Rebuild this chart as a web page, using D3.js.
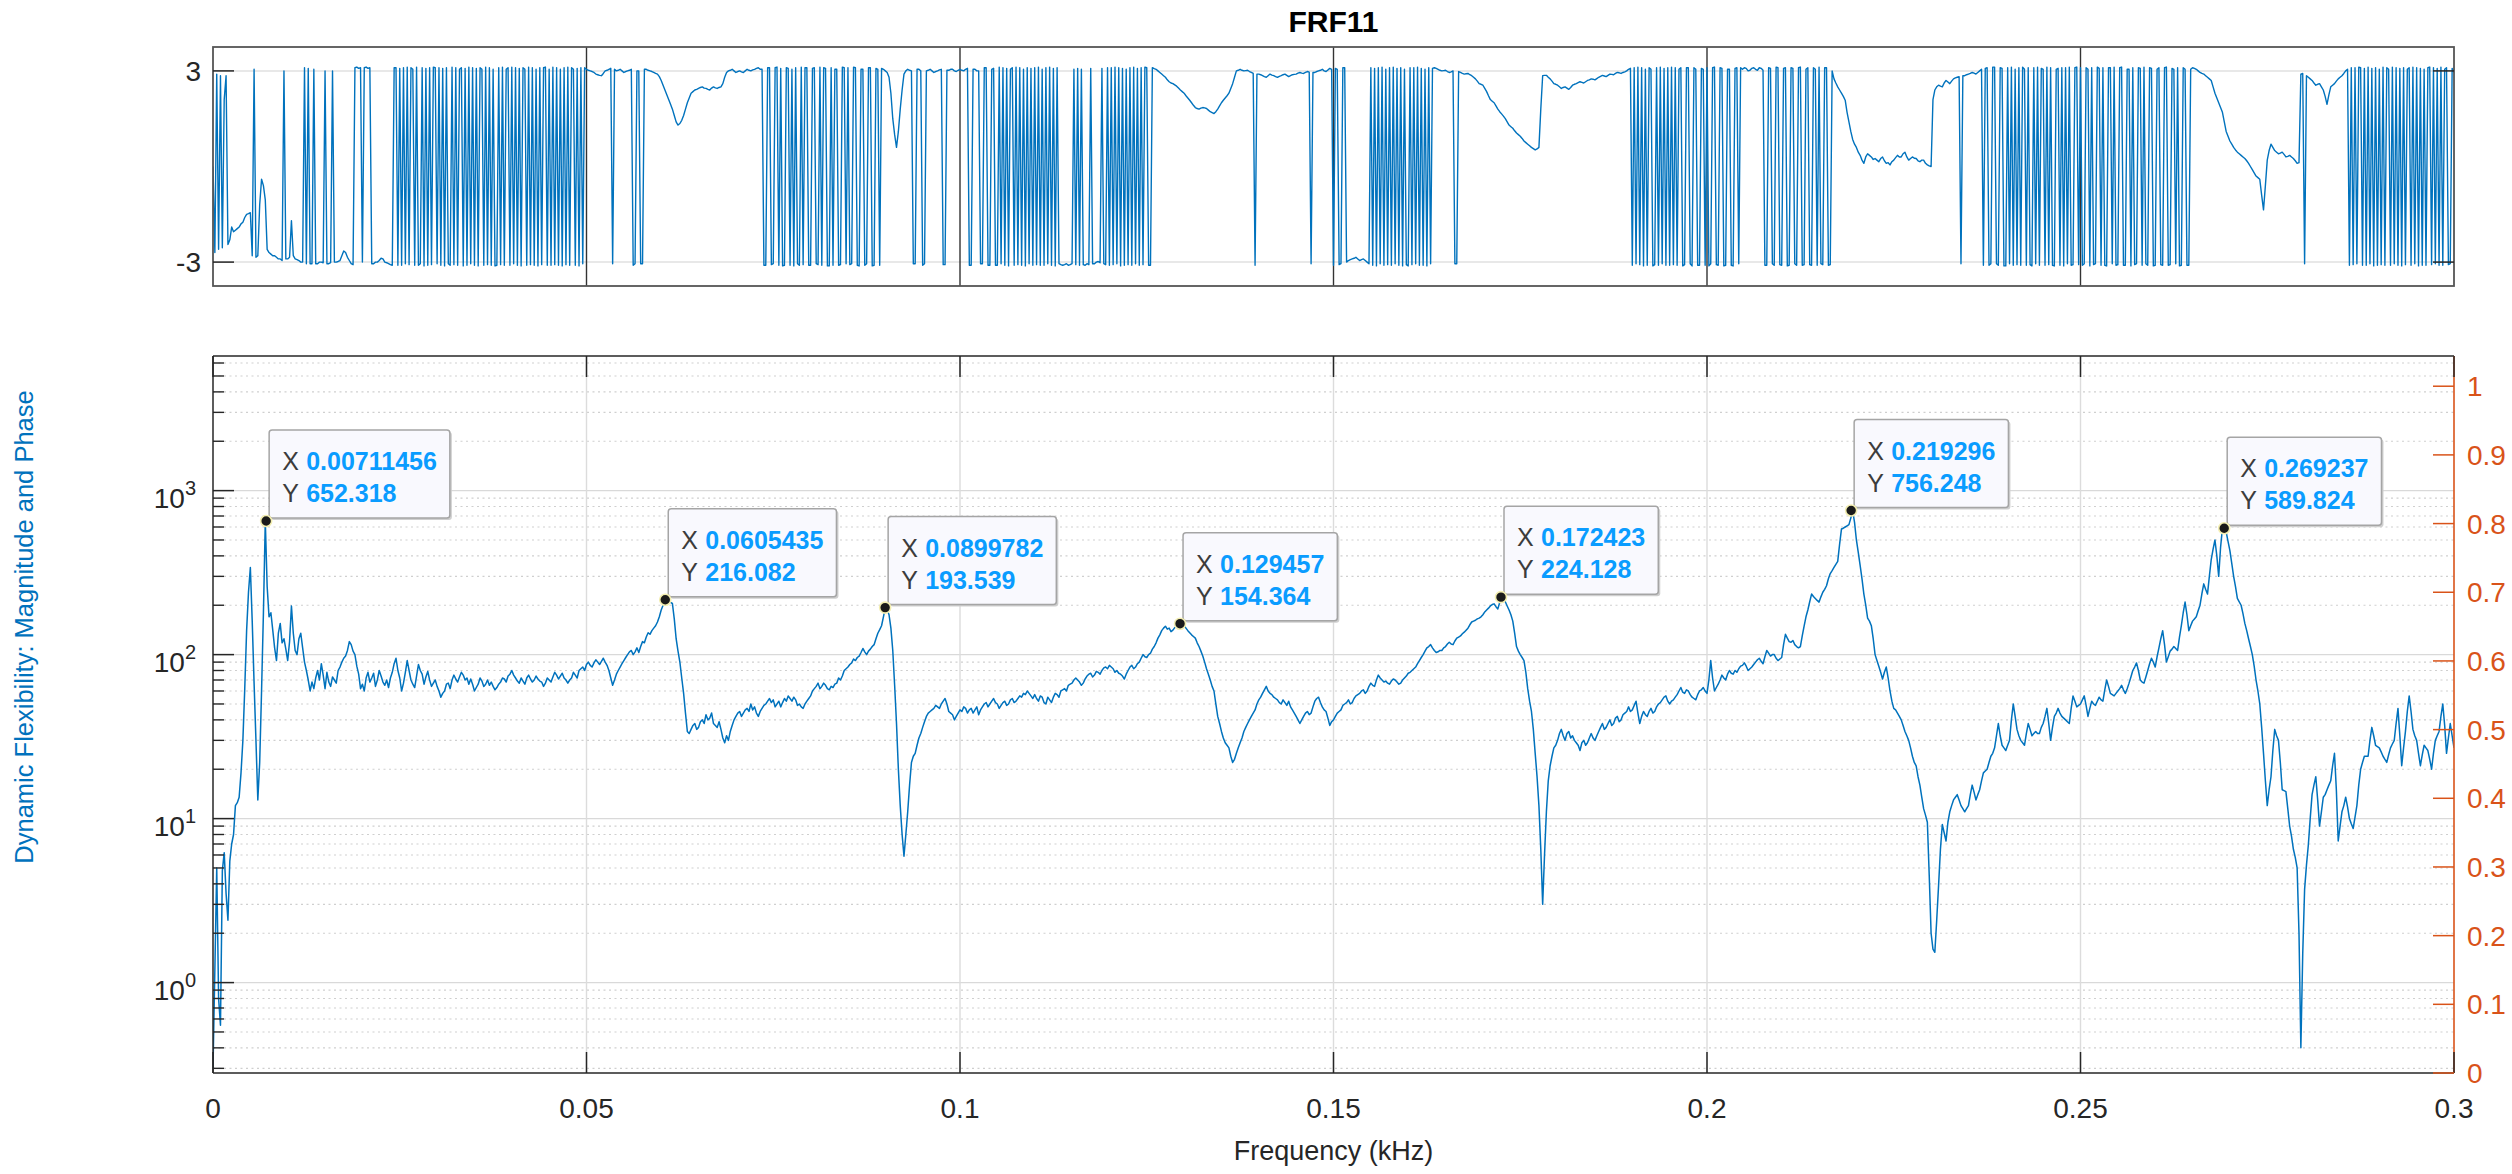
<!DOCTYPE html>
<html><head><meta charset="utf-8">
<script src="https://cdn.jsdelivr.net/npm/d3@7"></script>
<style>
body{margin:0;background:#fff;}
svg{display:block;}
text{font-family:"Liberation Sans",Arial,Helvetica,sans-serif;}
</style>
</head><body>
<svg id="c" width="2512" height="1174"></svg>
<script>
// ---------------- DATA ----------------
const titleText = "FRF11";
const xLabelText = "Frequency (kHz)";
const yLabelText = "Dynamic Flexibility: Magnitude and Phase";
const magStep = 0.00025;   // kHz between magnitude bins (bin k at k*magStep)
const phaseStep = 0.00025; // kHz between phase bins (bin j at j*phaseStep)

// |FRF| magnitude per frequency bin (0 .. 0.3 kHz)
const magnitude = [
0.3,1.2,5.0,0.8,0.55,4.8,6.2,3.5,2.4,5.5,7,8,12,12.5,13.5,19,30,62,140,240,
340,160,67,30,13,22,60,180,652,260,170,180,141,110,92,135,155,118,125,108,
92,120,198,135,106,100,125,135,110,90,80,70,60,68,62,72,80,70,88,75,
62,78,68,64,73,70,67,80,84,90,95,98,106,120,115,105,100,85,76,62,
66,60,72,78,68,72,77,64,70,80,74,68,65,70,63,72,78,88,95,80,
72,60,67,78,92,80,70,66,63,74,87,80,76,66,73,79,70,64,67,70,
64,60,55,58,60,66,67,62,70,75,71,68,73,78,75,70,72,66,71,66,
60,63,66,72,69,64,66,70,65,68,64,61,63,66,68,72,71,68,74,76,
80,75,72,69,67,72,69,66,72,75,71,68,70,74,71,69,68,64,67,72,
70,68,73,78,75,71,74,77,72,70,67,70,72,78,75,72,80,82,84,80,
87,90,86,84,89,93,90,87,91,95,90,86,80,72,65,70,76,80,84,88,
92,96,100,104,106,100,104,110,103,112,120,118,128,136,133,140,145,150,158,170,
187,200,216,210,214,208,205,165,125,105,90,72,58,44,34,33,35,37,38,35,
36,39,40,38,43,40,41,44,38,37,36,39,35,31,29,32,30,34,37,40,
42,44,45,42,44,46,47,45,50,46,48,44,42,45,47,49,50,52,54,51,
53,48,50,52,48,51,54,52,56,54,52,55,53,49,50,48,47,50,52,54,
56,60,62,64,67,62,64,67,65,62,61,64,63,66,67,72,70,74,80,82,
84,87,89,94,92,96,98,103,109,104,100,105,108,112,115,125,135,142,150,170,
193.5,188,175,145,106,65,38,20,12,8,5.9,8,11,16,22,24,25,28,31,33,
36,39,42,44,45,46,47,49,48,47,50,52,54,50,45,44,43,40,42,44,
46,45,48,47,44,46,47,44,46,48,43,46,48,50,51,48,50,52,54,51,
50,47,49,51,52,49,50,53,54,51,52,54,56,55,58,57,60,58,56,54,
57,54,52,56,55,51,50,55,53,51,55,58,57,55,60,61,62,60,65,66,
67,70,72,70,68,65,67,71,74,76,77,73,75,79,78,76,80,83,84,82,
86,84,82,78,80,77,76,74,71,76,80,84,86,82,84,88,90,95,100,97,
96,100,102,108,112,118,126,132,140,145,149,143,145,138,141,146,148,152,154.4,148,
150,145,140,136,132,129,126,118,112,105,98,90,82,76,70,64,60,50,42,38,
34,31,29,28,27,24,22,23,25,27,29,31,34,36,38,40,42,44,46,50,
53,55,58,61,64,60,58,57,55,54,53,51,50,53,51,49,52,48,46,44,
42,40,38,40,42,44,45,43,44,48,52,54,55,51,48,46,45,41,37,39,
40,42,44,45,46,49,50,51,53,50,51,54,56,57,58,60,61,58,60,64,
67,65,64,70,75,72,70,68,69,67,66,69,71,70,68,66,67,70,72,74,
77,78,80,82,84,88,92,96,100,105,110,112,115,110,106,103,104,106,106,110,
112,116,119,116,115,121,126,128,130,134,137,141,145,152,158,160,162,165,167,170,
175,182,187,192,198,202,204,196,190,208,224,218,210,198,187,175,160,135,112,105,
100,96,92,78,62,52,45,35,25,18,12,6.5,3.0,6,11,17,21,24,27,28,
30,33,35,32,30,33,34,31,32,30,29,28,26,29,30,28,29,31,33,31,
30,32,34,36,38,35,36,38,40,37,38,41,42,39,40,43,44,45,48,45,
46,49,52,44,38,42,45,43,42,45,47,44,45,48,50,51,53,55,56,52,
50,52,53,55,57,60,63,59,58,61,60,57,55,54,53,57,60,61,63,60,
58,70,92,72,60,63,66,70,75,72,70,76,80,77,76,80,78,82,85,86,
89,85,80,82,84,87,90,93,95,91,88,97,106,102,98,100,100,95,92,94,
96,115,133,126,120,119,122,115,112,110,112,130,149,170,187,210,234,226,220,214,
209,225,240,250,263,290,312,325,340,355,370,470,583,590,600,610,620,680,756,640,
500,420,350,290,234,200,167,160,150,125,100,92,85,78,71,78,84,72,60,52,
47,46,44,42,40,37,34,32,30,27,24,22,21,18,16,13.5,11.5,10.5,9.5,4.5,
2.0,1.6,1.53,2.4,3.9,6.5,9.2,8.2,7.3,9.5,11,12,13,13.5,14,13,12,11.5,11,11.5,
12,14,16,14.5,13,14,15,17,19,19.5,20,22,24,25,27,32,38,32,28,27,
26,28,30,40,50,42,35,32,30,29,28,33,38,35,32,33,34,33,33,36,
38,42,47,38,30,36,42,44,47,44,42,41,40,39,38,47,56,52,48,49,
50,53,56,49,42,47,52,50,49,52,55,53,52,61,70,64,58,57,56,58,
60,62,65,61,58,62,67,73,80,84,89,80,70,68,67,73,80,88,95,90,
84,97,110,125,140,115,90,97,105,108,112,109,106,128,150,180,209,175,140,150,
160,165,170,185,200,235,270,250,234,300,380,440,500,400,300,450,590,575,560,490,
430,360,300,260,220,210,200,178,155,140,125,112,100,85,70,60,50,36,25,17,
12,15,18,26,35,32,30,22,15,14.8,14.6,11.5,9,7.8,6.5,5.8,5,2.0,0.4,1.5,
3.7,5.2,6.9,10,14,16,18,13,9,11,13.5,14,15,16,17,21,25,15,7.3,9,
11,12,13.5,11.8,10,9.3,8.7,10.2,12,16,20,22,24,24,24,30,36,32,28,27.5,
27,25.5,24,23,22,24.5,27,28.5,30,38,47,32,21,27,34,45,56,45,35,32,
30,25,21,24.5,28,27,26,23,20,25,30,32,34,42,50,37,25,31,38,32,
27
];

// wrapped phase (rad) per phase bin
const phase = [
0.0,-2.7,2.9,-2.6,2.85,-2.55,2.1,2.85,-2.45,-2.3,
-1.9,-2.05,-2.0,-1.95,-1.9,-1.8,-1.75,-1.6,-1.5,-1.48,
-1.45,-2.8,3.05,-2.85,-2.8,-1.2,-0.4,-0.6,-1.05,-2.6,
-2.7,-2.75,-2.8,-2.8,-2.85,-2.9,-2.9,-2.95,3.0,-2.9,
-2.9,-2.85,-1.7,-2.8,-2.9,-2.92,-2.95,-3.0,-3.0,3.1,
-3.05,3.08,-3.05,-3.05,3.05,-3.05,-3.05,-3.0,-3.0,-3.02,
3.0,-3.05,-3.05,-3.02,3.0,-3.0,-3.0,-2.98,-2.95,-2.8,
-2.65,-2.7,-2.85,-2.95,-3.05,-3.08,3.1,3.12,3.08,3.1,
-3.0,3.1,3.12,3.08,3.1,-3.05,-3.05,-3.0,-3.0,-2.95,
-2.88,-2.9,-3.0,-3.02,-3.05,-3.08,-3.1,3.1,3.1,-3.1,
3.08,-3.1,3.1,-3.05,3.12,-3.08,3.1,3.05,-3.1,3.12,
-3.1,-3.05,3.1,-3.12,3.08,-3.1,3.1,-3.08,3.12,3.1,
-3.05,3.1,-3.1,3.08,-3.12,3.1,-3.05,-3.1,3.12,-3.08,
3.1,-3.1,3.05,3.1,-3.12,3.08,-3.1,3.12,-3.05,3.1,
-3.1,3.08,-3.12,3.1,3.05,-3.1,3.12,-3.08,3.1,-3.1,
3.05,-3.12,-3.1,3.1,-3.08,3.12,-3.1,3.05,3.1,-3.1,
3.12,-3.05,3.1,-3.1,3.08,-3.12,3.1,3.05,-3.1,3.12,
-3.08,3.1,-3.1,3.05,-3.12,3.1,-3.08,3.1,3.12,-3.1,
3.05,-3.1,3.12,-3.08,3.1,-3.1,3.05,-3.12,3.1,-3.08,
3.12,-3.1,3.1,3.05,-3.1,3.08,-3.12,3.1,-3.05,3.1,
3.05,3.02,3.0,2.98,2.95,2.9,2.88,2.86,2.85,2.92,
3.0,3.02,3.05,3.08,-3.05,3.05,3.0,3.02,3.05,3.0,
2.95,2.98,3.0,3.02,3.05,-3.1,-3.05,3.0,3.0,-3.05,
-3.05,3.05,3.05,3.02,3.0,2.98,2.95,2.92,2.9,2.82,
2.7,2.55,2.4,2.25,2.1,1.95,1.8,1.6,1.4,1.3,
1.35,1.45,1.6,1.8,2.0,2.15,2.3,2.35,2.4,2.42,
2.45,2.48,2.5,2.46,2.45,2.42,2.4,2.46,2.5,2.47,
2.45,2.48,2.5,2.6,2.8,2.95,3.0,3.02,3.05,3.0,
2.95,2.98,3.0,2.97,2.95,3.0,3.05,3.02,3.0,3.03,
3.05,3.08,3.1,3.05,3.05,-3.1,-3.1,3.1,3.1,-3.08,
-3.05,3.1,3.12,-3.1,3.08,-3.12,-3.1,3.1,3.08,-3.1,
3.05,-3.12,3.1,-3.05,-3.1,3.12,-3.08,3.1,3.1,-3.1,
-3.1,3.08,3.1,-3.05,-3.08,3.12,-3.1,3.1,3.08,-3.12,
-3.12,3.1,-3.1,3.05,3.05,-3.1,-3.08,3.12,3.1,-3.05,
3.1,-3.08,-3.05,3.12,3.1,-3.1,-3.12,3.05,3.05,-3.1,
-3.05,3.1,3.1,-3.12,-3.1,3.08,3.05,-3.1,3.08,3.05,
3.0,2.95,2.8,2.3,1.5,1.0,0.6,1.1,1.8,2.4,
2.9,3.0,3.05,3.02,3.0,-3.05,-3.05,3.05,3.05,3.0,
-3.1,-3.05,3.0,3.02,3.05,3.0,2.95,2.98,3.0,3.03,
3.05,-3.08,-3.08,3.02,3.02,3.05,3.05,3.0,2.98,3.02,
3.05,3.02,3.0,3.05,3.08,-3.1,-3.1,3.05,3.05,3.0,
3.0,-3.05,-3.05,3.1,3.1,-3.1,-3.1,3.05,3.08,-3.1,
-3.1,3.12,-3.05,3.1,-3.1,3.08,-3.12,3.05,3.1,-3.1,
3.12,-3.08,3.1,-3.1,3.05,-3.12,3.1,-3.05,3.08,-3.1,
3.1,-3.08,3.12,-3.1,3.05,-3.1,3.1,-3.05,3.12,-3.1,
3.08,-3.12,3.1,-3.05,-3.08,-3.1,-3.08,-3.05,-3.1,-3.08,
-3.05,3.05,-3.08,3.08,-3.1,3.05,-3.08,-3.1,-3.05,-3.08,
3.08,-3.05,-3.05,-3.0,-2.98,-3.02,3.08,-3.05,-3.08,3.1,
-3.1,3.1,-3.08,3.12,-3.05,3.1,-3.12,3.08,-3.1,3.05,
-3.08,3.1,-3.1,3.12,-3.05,3.08,-3.1,3.1,-3.08,3.12,
3.1,-3.1,-3.1,3.1,3.07,3.05,3.0,2.95,2.9,2.85,
2.8,2.72,2.66,2.62,2.6,2.56,2.52,2.46,2.4,2.35,
2.3,2.22,2.15,2.08,2.0,1.92,1.85,1.82,1.8,1.83,
1.85,1.84,1.82,1.77,1.72,1.69,1.66,1.72,1.8,1.9,
2.0,2.08,2.15,2.22,2.3,2.45,2.6,2.8,3.0,3.02,
3.05,3.02,3.0,3.01,3.02,2.98,2.95,2.92,-3.1,2.9,
2.9,2.88,2.85,2.82,2.8,2.85,2.9,2.87,2.85,2.82,
2.8,2.83,2.85,2.88,2.9,2.86,2.82,2.85,2.88,2.89,
2.9,2.93,2.95,2.93,2.92,2.95,2.98,2.96,-3.05,2.95,
2.95,2.98,3.0,3.02,3.05,3.0,2.98,3.03,3.08,3.05,
-3.1,3.08,3.05,-3.08,-3.05,3.1,3.1,-3.0,-2.95,-2.92,
-2.9,-2.88,-2.85,-2.9,-2.95,-2.92,-2.9,-2.95,-3.0,-3.05,
3.1,-3.1,3.08,-3.12,3.1,-3.05,3.12,-3.1,3.05,-3.08,
3.1,-3.1,3.12,-3.05,3.08,-3.1,3.1,-3.12,3.05,-3.08,
-3.12,3.1,-3.08,3.1,-3.05,3.12,-3.1,3.08,-3.1,3.05,
-3.12,3.1,-3.05,3.08,3.1,3.08,3.05,3.02,3.0,3.01,
3.02,2.98,2.95,2.97,3.0,-3.05,-3.05,2.98,2.95,2.92,
2.9,2.91,2.92,2.88,2.85,2.8,2.75,2.68,2.6,2.58,
2.55,2.45,2.35,2.22,2.1,2.05,2.0,1.9,1.8,1.72,
1.65,1.58,1.5,1.4,1.3,1.25,1.2,1.12,1.05,1.0,
0.95,0.88,0.8,0.75,0.7,0.65,0.6,0.56,0.52,0.55,
0.6,1.8,2.85,2.86,2.86,2.8,2.75,2.68,2.6,2.58,
2.55,2.5,2.45,2.48,2.5,2.46,2.42,2.48,2.55,2.58,
2.6,2.63,2.66,2.64,2.62,2.66,2.7,2.72,2.75,2.74,
2.72,2.76,2.8,2.83,2.86,2.84,2.82,2.86,2.9,2.89,
2.88,2.92,2.95,2.94,2.92,2.95,2.97,3.0,3.05,3.08,
-3.1,3.1,-3.05,3.12,-3.08,3.1,-3.12,3.05,-3.1,3.1,
3.05,-3.12,-3.08,3.1,-3.1,3.12,-3.05,3.08,-3.1,3.1,
-3.1,3.12,-3.08,3.1,-3.1,3.05,3.1,-3.12,-3.08,3.1,
3.1,-3.05,-3.12,3.1,3.05,-3.1,-3.1,3.08,3.05,-3.1,
3.1,-3.12,-3.05,3.1,3.12,-3.08,-3.1,3.1,3.08,-3.12,
-3.1,3.05,3.05,-3.1,-3.12,3.08,3.1,-3.05,3.1,3.05,
3.1,3.08,3.0,3.02,3.08,3.1,3.05,3.02,3.1,3.08,
3.02,-3.1,-3.1,3.1,3.08,-3.05,-3.1,3.12,3.1,-3.08,
-3.1,3.08,3.1,-3.12,-3.1,3.1,3.08,-3.05,-3.1,3.1,
3.12,-3.1,-3.08,3.05,3.1,-3.08,-3.1,3.1,3.05,-3.1,
3.12,-3.05,-3.08,3.1,3.1,-3.1,-3.08,3.0,2.75,2.62,
2.5,2.4,2.3,2.2,2.08,1.7,1.4,1.1,0.85,0.7,
0.6,0.45,0.35,0.2,0.1,0.3,0.4,0.35,0.3,0.22,
0.25,0.2,0.15,0.25,0.3,0.18,0.1,0.12,0.05,0.15,
0.2,0.28,0.35,0.3,0.3,0.4,0.45,0.3,0.2,0.25,
0.3,0.26,0.25,0.18,0.15,0.2,0.2,0.1,0.05,0.02,
0.0,2.1,2.4,2.5,2.55,2.52,2.5,2.62,2.7,2.65,
2.6,2.68,2.75,2.78,2.8,2.82,-3.05,2.85,2.85,2.88,
2.9,2.92,2.95,2.93,2.9,2.95,3.0,3.05,-3.1,3.08,
3.1,-3.1,-3.05,3.12,3.12,-3.05,-3.1,3.1,3.08,-3.12,
-3.12,3.1,-3.05,3.12,-3.1,3.05,-3.08,3.1,-3.1,3.12,
3.05,-3.1,3.1,-3.08,-3.12,3.1,-3.05,3.12,-3.1,3.08,
3.05,-3.1,3.12,-3.08,3.1,-3.1,-3.12,3.05,3.08,-3.1,
3.1,-3.12,3.1,-3.05,3.12,-3.1,-3.08,3.1,3.12,-3.08,
3.1,-3.1,-3.05,3.1,3.05,-3.12,3.1,-3.08,-3.05,3.12,
3.08,-3.1,3.1,-3.1,-3.12,3.1,3.1,-3.05,3.12,-3.1,
-3.08,3.1,3.12,-3.1,-3.1,3.05,3.05,-3.12,3.1,-3.08,
-3.05,3.1,3.08,-3.1,3.12,-3.05,-3.1,3.1,3.08,-3.12,
-3.1,3.05,3.1,-3.08,-3.1,3.1,3.12,-3.1,-3.08,3.08,
3.05,-3.05,3.1,-3.12,-3.1,3.1,3.05,-3.1,-3.1,3.05,
3.1,3.08,3.05,3.0,2.95,2.92,2.9,2.85,2.8,2.75,
2.7,2.5,2.3,2.15,2.0,1.85,1.7,1.4,1.1,0.95,
0.8,0.7,0.6,0.52,0.45,0.4,0.35,0.3,0.25,0.18,
0.1,0.0,-0.1,-0.2,-0.3,-0.35,-0.4,-0.9,-1.36,-0.6,
0.2,0.5,0.7,0.6,0.5,0.45,0.4,0.42,0.45,0.38,
0.3,0.32,0.35,0.3,0.25,0.18,0.1,0.12,2.9,2.92,
-3.05,2.85,2.8,2.75,2.7,2.62,2.55,2.58,2.6,2.5,
2.4,2.2,1.95,2.25,2.5,2.55,2.6,2.68,2.75,2.8,
2.85,2.92,3.0,3.05,-3.1,3.1,-3.08,3.1,-3.05,3.12,
3.1,-3.1,3.08,-3.1,3.12,-3.05,3.08,-3.12,3.1,-3.1,
3.05,-3.08,3.12,-3.1,3.1,3.05,-3.1,3.12,-3.05,3.1,
-3.1,3.08,-3.12,3.1,-3.08,3.05,3.1,-3.1,3.12,-3.05,
3.1,-3.12,3.08,-3.1,3.05,-3.1,3.1,3.12,-3.08,3.1,
-3.05,3.08,-3.1,3.12,-3.1,3.05,3.1,-3.08,-3.05,3.08,
2.95
];

// data tips (peak picks)
const tipX = [0.00711456, 0.0605435, 0.0899782, 0.129457, 0.172423, 0.219296, 0.269237];
const tipY = [652.318, 216.082, 193.539, 154.364, 224.128, 756.248, 589.824];
const tipXLabel = ["0.00711456","0.0605435","0.0899782","0.129457","0.172423","0.219296","0.269237"];
const tipYLabel = ["652.318","216.082","193.539","154.364","224.128","756.248","589.824"];

// ticks
const xTicks = [0, 0.05, 0.1, 0.15, 0.2, 0.25, 0.3];
const xTickLabels = ["0","0.05","0.1","0.15","0.2","0.25","0.3"];
const phaseTicks = [-3, 3];
const magTickExp = [0, 1, 2, 3];
const rightTicks = [0,0.1,0.2,0.3,0.4,0.5,0.6,0.7,0.8,0.9,1];
const rightTickLabels = ["0","0.1","0.2","0.3","0.4","0.5","0.6","0.7","0.8","0.9","1"];

// ---------------- LAYOUT ----------------
const L = 213, R = 2454;
const T1 = 47, B1 = 286;     // phase panel
const T2 = 356, B2 = 1073;   // magnitude panel
const blue = "#0072BD", orange = "#D95319", axCol = "#262626";
const tickFont = 28;

const svg = d3.select("#c");
svg.append("rect").attr("width",2512).attr("height",1174).attr("fill","#fff");

const x = d3.scaleLinear().domain([0, 0.3]).range([L, R]);
const yP = d3.scaleLinear().domain([-3.75, 3.75]).range([B1, T1]);
const yM = d3.scaleLog().domain([0.281, 6620]).range([B2, T2]);
const yR = d3.scaleLinear().domain([0, 1.044]).range([B2, T2]);

const defs = svg.append("defs");
defs.append("clipPath").attr("id","clipTop").append("rect")
  .attr("x",L).attr("y",T1).attr("width",R-L).attr("height",B1-T1);
defs.append("clipPath").attr("id","clipBot").append("rect")
  .attr("x",L).attr("y",T2).attr("width",R-L).attr("height",B2-T2);

// Title
svg.append("text").attr("x",(L+R)/2).attr("y",32).attr("text-anchor","middle")
  .attr("font-weight","bold").attr("font-size",30).attr("fill","#000").text(titleText);

// ---------- TOP PANEL (phase) ----------
const gt = svg.append("g");
gt.selectAll("line.hg").data(phaseTicks).join("line")
  .attr("x1",L).attr("x2",R).attr("y1",d=>yP(d)).attr("y2",d=>yP(d))
  .attr("stroke","#e0e0e0").attr("stroke-width",1.5);
gt.selectAll("line.vg").data(xTicks.slice(1,-1)).join("line")
  .attr("x1",d=>x(d)).attr("x2",d=>x(d)).attr("y1",T1).attr("y2",B1)
  .attr("stroke","#333").attr("stroke-width",1.4);

const phaseLine = d3.line().x((d,j)=>x(j*phaseStep)).y(d=>yP(d));
gt.append("path").datum(phase).attr("clip-path","url(#clipTop)")
  .attr("d",phaseLine).attr("fill","none").attr("stroke",blue).attr("stroke-width",1.4)
  .attr("stroke-linejoin","round");

gt.append("rect").attr("x",L).attr("y",T1).attr("width",R-L).attr("height",B1-T1)
  .attr("fill","none").attr("stroke","#555").attr("stroke-width",1.8);
phaseTicks.forEach(t=>{
  gt.append("line").attr("x1",L).attr("x2",L+21).attr("y1",yP(t)).attr("y2",yP(t)).attr("stroke",axCol).attr("stroke-width",1.5);
  gt.append("line").attr("x1",R-21).attr("x2",R).attr("y1",yP(t)).attr("y2",yP(t)).attr("stroke",axCol).attr("stroke-width",1.5);
  gt.append("text").attr("x",L-12).attr("y",yP(t)).attr("dy","0.36em").attr("text-anchor","end")
    .attr("font-size",tickFont).attr("fill",axCol).text(String(t));
});

// ---------- BOTTOM PANEL (magnitude) ----------
const gb = svg.append("g");
const minorVals = [];
for (let k=-1;k<=3;k++) for (let m=2;m<=9;m++){ const v=m*Math.pow(10,k); if (v>0.281 && v<6620) minorVals.push(v); }
gb.selectAll("line.mg").data(minorVals).join("line")
  .attr("x1",L).attr("x2",R).attr("y1",d=>yM(d)).attr("y2",d=>yM(d))
  .attr("stroke","#cfcfcf").attr("stroke-width",1.1).attr("stroke-dasharray","2,3.5");
gb.selectAll("line.Mg").data(magTickExp).join("line")
  .attr("x1",L).attr("x2",R).attr("y1",d=>yM(Math.pow(10,d))).attr("y2",d=>yM(Math.pow(10,d)))
  .attr("stroke","#d9d9d9").attr("stroke-width",1.4);
gb.selectAll("line.xg").data(xTicks.slice(1,-1)).join("line")
  .attr("x1",d=>x(d)).attr("x2",d=>x(d)).attr("y1",T2).attr("y2",B2)
  .attr("stroke","#dcdcdc").attr("stroke-width",1.4);

const magLine = d3.line().x((d,k)=>x(k*magStep)).y(d=>yM(d));
gb.append("path").datum(magnitude).attr("clip-path","url(#clipBot)")
  .attr("d",magLine).attr("fill","none").attr("stroke",blue).attr("stroke-width",1.5)
  .attr("stroke-linejoin","round");

// axes lines
gb.append("line").attr("x1",L).attr("x2",R).attr("y1",T2).attr("y2",T2).attr("stroke",axCol).attr("stroke-width",1.5);
gb.append("line").attr("x1",L).attr("x2",R).attr("y1",B2).attr("y2",B2).attr("stroke",axCol).attr("stroke-width",1.5);
gb.append("line").attr("x1",L).attr("x2",L).attr("y1",T2).attr("y2",B2).attr("stroke",axCol).attr("stroke-width",1.5);
gb.append("line").attr("x1",R).attr("x2",R).attr("y1",T2).attr("y2",B2).attr("stroke",orange).attr("stroke-width",1.6);

// x ticks (bottom and top, inward)
xTicks.forEach((t,i)=>{
  gb.append("line").attr("x1",x(t)).attr("x2",x(t)).attr("y1",B2).attr("y2",B2-21).attr("stroke",axCol).attr("stroke-width",1.5);
  gb.append("line").attr("x1",x(t)).attr("x2",x(t)).attr("y1",T2).attr("y2",T2+21).attr("stroke",axCol).attr("stroke-width",1.5);
  gb.append("text").attr("x",x(t)).attr("y",B2+45).attr("text-anchor","middle")
    .attr("font-size",tickFont).attr("fill",axCol).text(xTickLabels[i]);
});
// left ticks
minorVals.forEach(v=>{
  gb.append("line").attr("x1",L).attr("x2",L+11).attr("y1",yM(v)).attr("y2",yM(v)).attr("stroke",axCol).attr("stroke-width",1.4);
});
magTickExp.forEach(e=>{
  const yy = yM(Math.pow(10,e));
  gb.append("line").attr("x1",L).attr("x2",L+21).attr("y1",yy).attr("y2",yy).attr("stroke",axCol).attr("stroke-width",1.5);
  const t = gb.append("text").attr("x",L-17).attr("y",yy+17).attr("text-anchor","end")
    .attr("font-size",tickFont).attr("fill",axCol);
  t.append("tspan").text("10");
  t.append("tspan").attr("dy",-13).attr("font-size",20).text(String(e));
});
// right ticks (orange)
rightTicks.forEach((v,i)=>{
  gb.append("line").attr("x1",R-21).attr("x2",R).attr("y1",yR(v)).attr("y2",yR(v)).attr("stroke",orange).attr("stroke-width",1.5);
  gb.append("text").attr("x",R+13).attr("y",yR(v)).attr("dy","0.36em").attr("text-anchor","start")
    .attr("font-size",tickFont).attr("fill",orange).text(rightTickLabels[i]);
});

// axis labels
svg.append("text").attr("x",(L+R)/2).attr("y",1160).attr("text-anchor","middle")
  .attr("font-size",27).attr("fill",axCol).text(xLabelText);
svg.append("text").attr("transform","translate(33,627) rotate(-90)").attr("text-anchor","middle")
  .attr("font-size",25.5).attr("fill",blue).text(yLabelText);

// ---------- DATA TIPS ----------
const gtip = svg.append("g");
tipX.forEach((fx,i)=>{
  const px = x(fx), py = yM(tipY[i]);
  const bx = px + 3, bh = 88, by = py - 3 - bh;
  const g = gtip.append("g");
  const shadow = g.append("rect").attr("x",bx+2).attr("y",by+2).attr("height",bh).attr("rx",3).attr("fill","#cfcfcf");
  const box = g.append("rect").attr("x",bx).attr("y",by).attr("height",bh).attr("rx",3)
    .attr("fill","#f9f9fe").attr("stroke","#a5a5a5").attr("stroke-width",1.5);
  g.append("text").attr("x",bx+13).attr("y",by+40).attr("font-size",25).attr("fill","#3c3c3c").text("X");
  const vx = g.append("text").attr("x",bx+37).attr("y",by+40).attr("font-size",25).attr("font-weight","bold").attr("fill","#0a9cff").text(tipXLabel[i]);
  g.append("text").attr("x",bx+13).attr("y",by+72).attr("font-size",25).attr("fill","#3c3c3c").text("Y");
  const vy = g.append("text").attr("x",bx+37).attr("y",by+72).attr("font-size",25).attr("font-weight","bold").attr("fill","#0a9cff").text(tipYLabel[i]);
  const w = 37 + Math.max(vx.node().getComputedTextLength(), vy.node().getComputedTextLength()) + 13;
  box.attr("width",w); shadow.attr("width",w);
  g.append("circle").attr("cx",px).attr("cy",py).attr("r",5.5)
    .attr("fill","#1a1a1a").attr("stroke","#f3eeb0").attr("stroke-width",1.6);
});
</script>
</body></html>
